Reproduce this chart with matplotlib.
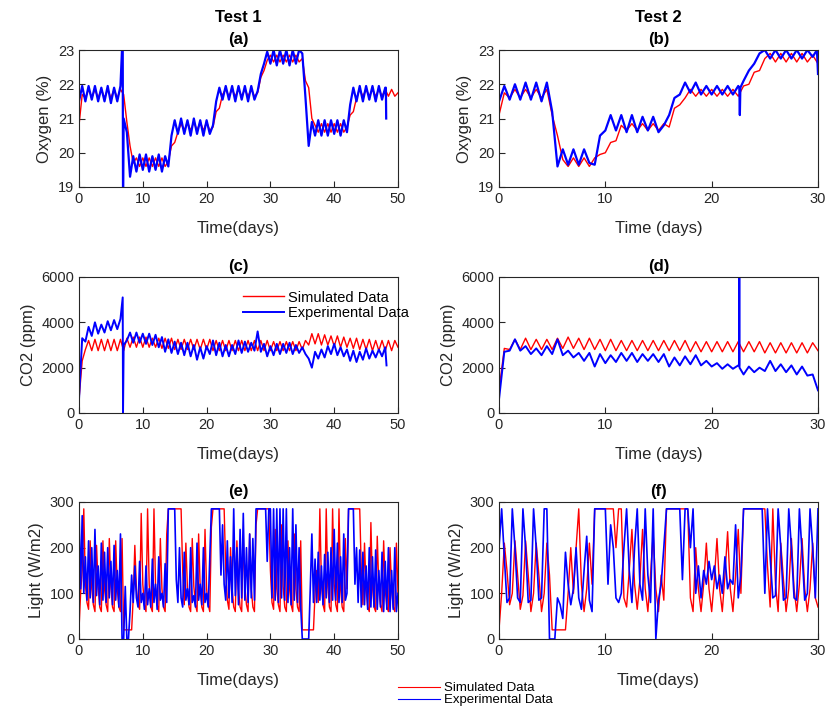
import numpy as np
import matplotlib
matplotlib.use("Agg")
import matplotlib.pyplot as plt

plt.rcParams['font.family'] = ['Liberation Sans', 'DejaVu Sans']

# ---- data (read off the recorded runs) ----
# O2 / CO2 are sampled every half day, light every quarter day
O2_STEP = 0.5
CO2_STEP = 0.5
LIGHT_STEP = 0.25

# Test 1 oxygen (%)
o2_sim_1 = [20.8, 21.7, 21.6, 21.85, 21.6, 21.85, 21.6, 21.85, 21.6, 21.85,
            21.6, 21.85, 21.6, 21.85, 21.7, 20.9, 20.2, 19.7, 19.85, 19.6,
            19.85, 19.6, 19.85, 19.6, 19.85, 19.6, 19.85, 19.6, 19.75, 20.2,
            20.3, 20.6, 20.85, 20.65, 20.9, 20.65, 20.9, 20.65, 20.9, 20.65,
            20.9, 20.65, 20.75, 21.2, 21.3, 21.7, 21.85, 21.65, 21.85, 21.65,
            21.85, 21.65, 21.85, 21.65, 21.85, 21.65, 21.75, 22.2, 22.4, 22.7,
            22.85, 22.65, 22.85, 22.65, 22.85, 22.65, 22.85, 22.65, 22.85, 22.65,
            22.75, 22.1, 21.9, 21.0, 20.8, 20.6, 20.85, 20.6, 20.85, 20.6,
            20.85, 20.6, 20.85, 20.6, 20.75, 21.1, 21.2, 21.6, 21.85, 21.65,
            21.85, 21.65, 21.85, 21.65, 21.85, 21.65, 21.85, 21.65, 21.85, 21.65,
            21.75]
o2_exp_1 = [21.5, 21.95, 21.5, 21.95, 21.55, 21.95, 21.5, 21.9, 21.5, 21.95,
            21.45, 21.9, 21.5, 21.95, 21.0, 20.6, 19.3, 19.9, 19.45, 19.95,
            19.5, 19.95, 19.45, 19.9, 19.5, 19.95, 19.45, 19.9, 19.6, 20.5,
            20.95, 20.55, 21.0, 20.55, 20.95, 20.5, 21.0, 20.55, 20.95, 20.5,
            20.95, 20.55, 20.8, 21.5, 21.9, 21.55, 21.95, 21.55, 21.95, 21.5,
            21.95, 21.55, 21.95, 21.5, 21.95, 21.55, 21.8, 22.3, 22.6, 22.95,
            22.6, 23.0, 22.55, 23.0, 22.6, 23.0, 22.55, 23.0, 22.6, 23.0,
            22.9, 21.6, 20.2, 20.9, 20.5, 20.95, 20.5, 20.95, 20.5, 20.95,
            20.55, 20.95, 20.5, 20.95, 20.6, 21.4, 21.9, 21.5, 21.95, 21.5,
            21.95, 21.55, 21.95, 21.5, 21.95, 21.55, 21.9]
o2_exp_1_glitch_t = [6.85, 6.9, 48.1, 48.15]
o2_exp_1_glitch_v = [23.5, 18.5, 21.9, 21.0]

# Test 2 oxygen (%)
o2_sim_2 = [21.1, 21.75, 21.6, 21.85, 21.6, 21.85, 21.6, 21.85, 21.6, 21.85,
            21.1, 20.5, 19.8, 19.6, 19.85, 19.6, 19.85, 19.6, 19.85, 19.95,
            20.0, 20.3, 20.35, 20.8, 20.65, 20.85, 20.65, 20.85, 20.65, 20.85,
            20.65, 20.85, 20.75, 21.3, 21.4, 21.6, 21.85, 21.65, 21.85, 21.65,
            21.85, 21.65, 21.85, 21.65, 21.85, 21.65, 21.95, 22.0, 22.35, 22.4,
            22.75, 22.9, 22.65, 22.9, 22.65, 22.9, 22.65, 22.9, 22.65, 22.85,
            22.6]
o2_exp_2 = [21.5, 21.95, 21.55, 22.0, 21.55, 22.05, 21.55, 22.05, 21.5, 22.05,
            21.2, 19.6, 20.1, 19.65, 20.1, 19.65, 20.1, 19.7, 19.65, 20.5,
            20.65, 21.1, 20.65, 21.1, 20.6, 21.1, 20.6, 21.05, 20.65, 21.05,
            20.6, 20.8, 21.1, 21.6, 21.7, 22.05, 21.75, 22.05, 21.7, 21.95,
            21.7, 21.95, 21.7, 21.95, 21.7, 21.95, 22.1, 22.4, 22.6, 22.9,
            23.0, 22.75, 23.0, 22.75, 23.0, 22.75, 23.0, 22.75, 23.0, 22.8,
            22.3]
o2_exp_2_glitch_t = [22.6, 22.65, 22.7, 29.9]
o2_exp_2_glitch_v = [21.9, 21.1, 21.9, 23.0]

# Test 1 CO2 (ppm)
co2_sim_1 = [600, 2300, 2800, 3200, 2750, 3250, 2750, 3250, 2750, 3250,
             2750, 3250, 2750, 3250, 2750, 3300, 2900, 3350, 2900, 3350,
             2900, 3350, 2900, 3300, 2900, 3300, 2850, 3300, 2850, 3300,
             2800, 3250, 2800, 3250, 2800, 3250, 2800, 3250, 2800, 3250,
             2800, 3250, 2750, 3200, 2750, 3200, 2750, 3200, 2750, 3200,
             2750, 3200, 2750, 3200, 2750, 3200, 2750, 3200, 2750, 3200,
             2750, 3150, 2750, 3150, 2750, 3150, 2750, 3150, 2750, 3150,
             2800, 3200, 3000, 3500, 3050, 3500, 3000, 3450, 3000, 3400,
             2950, 3400, 2900, 3350, 2900, 3300, 2850, 3300, 2800, 3250,
             2800, 3250, 2750, 3200, 2750, 3200, 2750, 3200, 2750, 3200,
             2900]
co2_exp_1 = [600, 3300, 3150, 3800, 3400, 4000, 3500, 3900, 3550, 4050,
             3650, 4100, 3700, 4150, 3000, 3200, 3550, 3100, 3550, 3100,
             3500, 3050, 3500, 3000, 3450, 2900, 3350, 2700, 3250, 2650,
             3150, 2600, 3100, 2550, 3100, 2500, 3000, 2350, 2900, 2400,
             2950, 2600, 3200, 2550, 3100, 2500, 3000, 2500, 3000, 2600,
             3200, 2650, 3150, 2700, 3100, 2750, 3600, 2700, 3050, 2500,
             2950, 2550, 3050, 2600, 3050, 2650, 3100, 2600, 3000, 2650,
             2900, 2600, 2400, 2000, 2700, 2400, 2800, 2450, 2950, 2600,
             3050, 2550, 2900, 2500, 2800, 2300, 2750, 2250, 2700, 2350,
             2850, 2400, 2750, 2450, 2800, 2500, 2900]
co2_exp_1_glitch_t = [6.85, 6.9, 48.2]
co2_exp_1_glitch_v = [5100, 0, 2100]

# Test 2 CO2 (ppm)
co2_sim_2 = [1000, 2850, 2800, 3250, 2800, 3300, 2800, 3250, 2800, 3250,
             2800, 3300, 2850, 3350, 2850, 3300, 2800, 3300, 2800, 3250,
             2750, 3250, 2750, 3200, 2750, 3200, 2750, 3200, 2750, 3200,
             2750, 3200, 2750, 3200, 2750, 3200, 2700, 3150, 2700, 3150,
             2700, 3150, 2700, 3150, 2700, 3150, 2700, 3150, 2700, 3150,
             2650, 3100, 2650, 3100, 2650, 3100, 2650, 3100, 2650, 3100,
             2750]
co2_exp_2 = [600, 2700, 2750, 3250, 2750, 2950, 2600, 2850, 2550, 2950,
             2600, 3250, 2550, 2750, 2450, 2650, 2300, 2650, 2050, 2600,
             2200, 2550, 2250, 2650, 2300, 2650, 2250, 2600, 2300, 2600,
             2250, 2600, 2050, 2450, 2100, 2500, 2150, 2550, 2100, 2300,
             2050, 2200, 1950, 2150, 1950, 2100, 1700, 2050, 1800, 2000,
             1850, 2300, 1850, 2150, 1800, 2100, 1700, 2050, 1650, 1700,
             1000]
co2_exp_2_glitch_t = [22.58, 22.6, 22.62]
co2_exp_2_glitch_v = [2100, 6100, 2000]

# Test 1 light (W/m2)
light_sim_1 = [20, 100, 150, 285, 120, 80, 65, 215, 110, 75, 60, 205,
               115, 70, 60, 215, 110, 75, 60, 220, 115, 70, 60, 215,
               110, 70, 60, 220, 20, 20, 20, 20, 20, 20, 90, 205,
               110, 75, 65, 275, 120, 75, 60, 285, 120, 70, 60, 285,
               115, 75, 60, 220, 110, 70, 60, 230, 285, 285, 285, 285,
               285, 285, 285, 285, 285, 150, 75, 210, 110, 70, 60, 220,
               115, 75, 60, 230, 110, 70, 60, 240, 110, 75, 60, 245,
               285, 285, 285, 285, 285, 285, 285, 285, 150, 85, 65, 200,
               110, 70, 60, 215, 110, 70, 60, 225, 115, 75, 60, 230,
               110, 70, 60, 250, 285, 285, 285, 285, 285, 285, 285, 285,
               150, 80, 65, 240, 110, 75, 60, 250, 115, 70, 60, 215,
               110, 75, 60, 230, 110, 70, 60, 215, 20, 20, 20, 20,
               20, 20, 20, 20, 100, 150, 80, 285, 120, 75, 60, 285,
               115, 70, 60, 285, 120, 75, 60, 285, 110, 70, 60, 220,
               110, 285, 285, 285, 285, 285, 285, 285, 285, 150, 75, 210,
               110, 70, 60, 255, 115, 70, 60, 225, 110, 75, 60, 215,
               110, 70, 60, 200, 110, 70, 60, 210, 100]
light_exp_1 = [285, 110, 270, 100, 180, 85, 215, 90, 200, 80, 240, 95,
               160, 75, 210, 85, 190, 80, 200, 90, 170, 75, 205, 85,
               150, 70, 230, 0, 0, 115, 0, 0, 60, 140, 80, 160,
               90, 70, 170, 80, 100, 65, 160, 75, 110, 70, 175, 80,
               120, 65, 180, 85, 100, 70, 165, 80, 285, 285, 285, 285,
               285, 130, 80, 200, 90, 70, 190, 85, 110, 75, 200, 80,
               95, 70, 210, 85, 120, 75, 200, 80, 100, 70, 180, 285,
               285, 285, 285, 285, 285, 140, 250, 120, 85, 215, 90, 180,
               80, 285, 95, 200, 75, 240, 90, 275, 85, 200, 80, 230,
               90, 220, 85, 285, 285, 285, 285, 285, 285, 285, 170, 285,
               285, 90, 285, 85, 285, 80, 285, 90, 285, 85, 285, 80,
               200, 75, 285, 85, 250, 80, 200, 70, 0, 0, 0, 0,
               0, 110, 230, 80, 175, 80, 190, 85, 160, 75, 185, 90,
               190, 80, 200, 85, 240, 85, 210, 80, 180, 80, 230, 85,
               100, 285, 285, 285, 285, 120, 200, 80, 195, 70, 190, 75,
               160, 65, 200, 70, 180, 70, 195, 65, 150, 70, 190, 60,
               170, 65, 200, 60, 150, 65, 200, 60, 100]

# Test 2 light (W/m2)
light_sim_2 = [20, 100, 210, 150, 75, 100, 215, 140, 65, 95, 215, 140,
               60, 100, 210, 140, 60, 100, 210, 140, 20, 20, 20, 20,
               20, 20, 100, 200, 100, 200, 285, 120, 60, 110, 210, 120,
               285, 285, 285, 285, 285, 285, 285, 285, 200, 285, 285, 90,
               70, 150, 240, 120, 65, 130, 240, 110, 60, 140, 230, 110,
               60, 140, 85, 285, 285, 285, 285, 285, 285, 285, 285, 285,
               90, 60, 200, 110, 60, 120, 210, 110, 60, 130, 220, 110,
               60, 140, 235, 110, 60, 140, 240, 100, 285, 285, 285, 285,
               285, 285, 285, 285, 285, 160, 70, 285, 120, 60, 210, 130,
               60, 110, 220, 110, 60, 120, 220, 110, 60, 110, 210, 90,
               70]
light_exp_2 = [200, 285, 180, 80, 90, 285, 200, 90, 80, 285, 200, 80,
               85, 285, 200, 85, 90, 285, 285, 0, 0, 0, 90, 75,
               45, 190, 120, 75, 110, 200, 90, 65, 150, 225, 85, 60,
               285, 285, 285, 285, 285, 120, 250, 200, 90, 80, 100, 200,
               285, 150, 80, 200, 285, 120, 85, 285, 140, 80, 285, 0,
               85, 120, 200, 285, 285, 285, 285, 285, 285, 130, 285, 285,
               200, 285, 100, 160, 90, 150, 120, 170, 130, 160, 110, 140,
               100, 180, 110, 130, 120, 250, 90, 140, 285, 285, 285, 285,
               285, 285, 285, 285, 100, 285, 180, 90, 95, 285, 200, 85,
               90, 285, 200, 90, 85, 285, 190, 85, 100, 285, 200, 90,
               285]


def series(vals, step, extra_t=(), extra_v=()):
    # regular samples plus any short glitches logged between them
    t = np.concatenate([np.arange(len(vals)) * step, extra_t])
    v = np.concatenate([np.asarray(vals, dtype=float), extra_v])
    order = np.argsort(t, kind='stable')
    return t[order], v[order]


RED = '#ff0000'
BLUE = '#0000ff'
INK = '#262626'

W, H = 828, 713
fig = plt.figure(figsize=(W / 100, H / 100), dpi=100)


def make_axes(left, top, right, bottom):
    ax = fig.add_axes([left / W, 1 - bottom / H, (right - left) / W, (bottom - top) / H])
    for s in ax.spines.values():
        s.set_color(INK)
        s.set_linewidth(0.8)
    ax.tick_params(direction='in', length=4, width=0.8, colors=INK, labelsize=10.5,
                   top=False, right=False)
    return ax


cols = [(79, 398), (499, 818)]
rows = [(50, 187), (277, 413), (502, 639)]

panels = [
    # (row, col, sim, exp, ylabel, ylim, yticks, xmax, xlabel, title, lw_exp)
    (0, 0, series(o2_sim_1, O2_STEP),
     series(o2_exp_1, O2_STEP, o2_exp_1_glitch_t, o2_exp_1_glitch_v),
     'Oxygen (%)', (19, 23), [19, 20, 21, 22, 23], 50, 'Time(days)', '(a)', 1.6),
    (0, 1, series(o2_sim_2, O2_STEP),
     series(o2_exp_2, O2_STEP, o2_exp_2_glitch_t, o2_exp_2_glitch_v),
     'Oxygen (%)', (19, 23), [19, 20, 21, 22, 23], 30, 'Time (days)', '(b)', 1.6),
    (1, 0, series(co2_sim_1, CO2_STEP),
     series(co2_exp_1, CO2_STEP, co2_exp_1_glitch_t, co2_exp_1_glitch_v),
     'CO2 (ppm)', (0, 6000), [0, 2000, 4000, 6000], 50, 'Time(days)', '(c)', 1.4),
    (1, 1, series(co2_sim_2, CO2_STEP),
     series(co2_exp_2, CO2_STEP, co2_exp_2_glitch_t, co2_exp_2_glitch_v),
     'CO2 (ppm)', (0, 6000), [0, 2000, 4000, 6000], 30, 'Time (days)', '(d)', 1.4),
    (2, 0, series(light_sim_1, LIGHT_STEP), series(light_exp_1, LIGHT_STEP),
     'Light (W/m2)', (0, 300), [0, 100, 200, 300], 50, 'Time(days)', '(e)', 1.2),
    (2, 1, series(light_sim_2, LIGHT_STEP), series(light_exp_2, LIGHT_STEP),
     'Light (W/m2)', (0, 300), [0, 100, 200, 300], 30, 'Time(days)', '(f)', 1.2),
]

axes = {}
for r, c, sim, exp, ylab, ylim, yticks, xmax, xlab, title, lw_exp in panels:
    ax = make_axes(cols[c][0], rows[r][0], cols[c][1], rows[r][1])
    ax.plot(*sim, color=RED, lw=1.0, label='Simulated Data')
    ax.plot(*exp, color=BLUE, lw=lw_exp, label='Experimental Data')
    ax.set_xlim(0, xmax)
    ax.set_xticks(np.arange(0, xmax + 1, 10))
    ax.set_ylim(*ylim)
    ax.set_yticks(yticks)
    ax.set_xlabel(xlab, fontsize=12, color=INK, labelpad=11)
    ax.set_ylabel(ylab, fontsize=12, color=INK)
    ax.set_title(title, fontsize=12, fontweight='bold', color='black', pad=4)
    axes[(r, c)] = ax

# column headers
for c, name in enumerate(['Test 1', 'Test 2']):
    fig.text((cols[c][0] + cols[c][1]) / 2 / W, 1 - 18 / H, name, ha='center', va='center',
             fontsize=12, fontweight='bold')

# legend inside the CO2 panel of test 1
axc = axes[(1, 0)]
axc.legend(loc='upper left', bbox_to_anchor=((243 - 79) / 319, 0.9), frameon=False,
           fontsize=10.5, handlelength=2.8, handletextpad=0.3, borderpad=0,
           borderaxespad=0, labelspacing=0.1)

# shared legend under the bottom row
h, l = axc.get_legend_handles_labels()
leg = fig.legend(h, l, loc='upper left', bbox_to_anchor=(398 / W, 1 - 682 / H), frameon=False,
                 fontsize=9.5, handlelength=3.2, handletextpad=0.3, borderpad=0,
                 borderaxespad=0, labelspacing=0.0)
for line in leg.get_lines():
    line.set_linewidth(0.8)

fig.savefig('out.png', dpi=100)
